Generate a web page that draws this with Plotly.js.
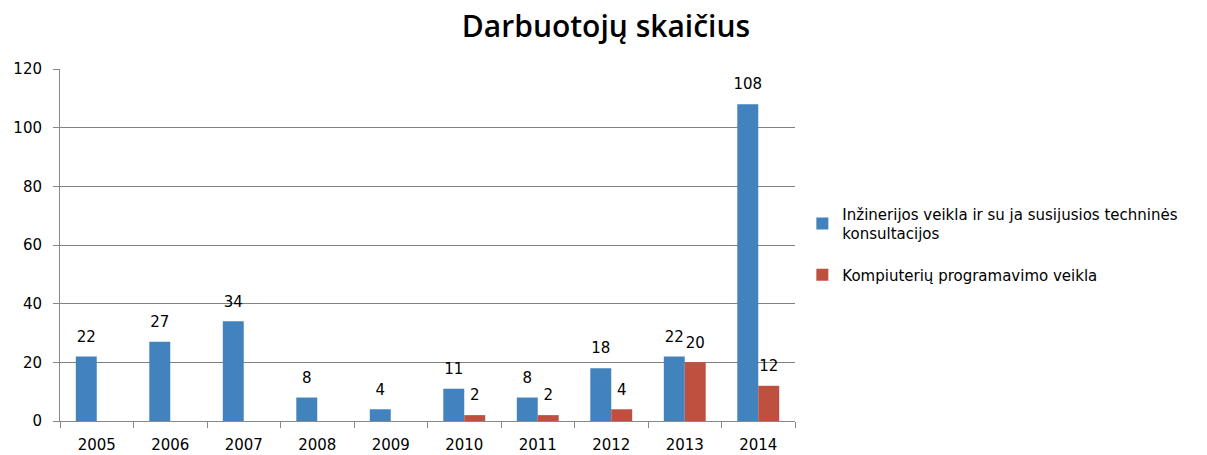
<!DOCTYPE html>
<html><head><meta charset="utf-8">
<script src="https://cdn.plot.ly/plotly-3.0.1.min.js"></script>
<style>body{margin:0;background:#fff}#c{width:1207px;height:455px}</style>
</head><body><div id="c"></div>
<script>
const years = ['2005','2006','2007','2008','2009','2010','2011','2012','2013','2014'];
const inzinerija = [22,27,34,8,4,11,8,18,22,108];
const programavimas = [null,null,null,null,null,2,2,4,20,12];
const seriesNames = ['Inžinerijos veikla ir su ja susijusios techninės<br>konsultacijos','Kompiuterių programavimo veikla'];
const yTicks = [0,20,40,60,80,100,120];

const GAP = 0.43;
const lf = {family:'DejaVu Sans, Verdana, sans-serif', size:15, color:'#000'};
function labels(vals){
  return {type:'scatter', mode:'markers+text', x:years, y:vals, text:vals.map(v=>v==null?'':String(v)),
    textposition:'top center', textfont:lf, marker:{size:16, opacity:0}, cliponaxis:false,
    showlegend:false, hoverinfo:'skip'};
}
const data = [
 {type:'bar', x:years, y:inzinerija, name:seriesNames[0], marker:{color:'#4282bd'}, legendgroup:'a'},
 {type:'bar', x:years, y:programavimas, name:seriesNames[1], marker:{color:'#bf4f3f'}, legendgroup:'b'},
 labels(inzinerija),
 labels(programavimas)
];
const layout = {
 width:1207, height:455,
 margin:{l:60, r:412, t:69, b:34},
 paper_bgcolor:'#fff', plot_bgcolor:'#fff',
 title:{text:'Darbuotojų skaičius', x:606/1207, xanchor:'center', y:0.942, yanchor:'middle',
   font:{family:'Open Sans, sans-serif', size:30, color:'#000', weight:600}},
 barmode:'group', bargap:GAP, bargroupgap:0,
 scattermode:'group', scattergap:GAP,
 showlegend:true,
 legend:{x:1.01, xanchor:'left', y:0.635, yanchor:'top', font:{family:'DejaVu Sans, sans-serif', size:15, color:'#000'},
   traceorder:'grouped', tracegroupgap:19, itemwidth:30},
 xaxis:{type:'category', showline:true, linecolor:'#888', linewidth:1, ticks:'outside', tickson:'boundaries',
   ticklen:6, tickcolor:'#888', ticklabelstandoff:10,
   tickfont:{family:'DejaVu Sans, sans-serif', size:15, color:'#000'}, showgrid:false},
 yaxis:{range:[0,120], tickvals:yTicks, showline:true, linecolor:'#888', linewidth:1, ticks:'outside', ticklen:6,
   tickcolor:'#888', gridcolor:'#808080', gridwidth:1, zeroline:false, ticklabelstandoff:8,
   tickfont:{family:'DejaVu Sans, sans-serif', size:15, color:'#000'}}
};
Plotly.newPlot('c', data, layout, {displayModeBar:false});
</script></body></html>
